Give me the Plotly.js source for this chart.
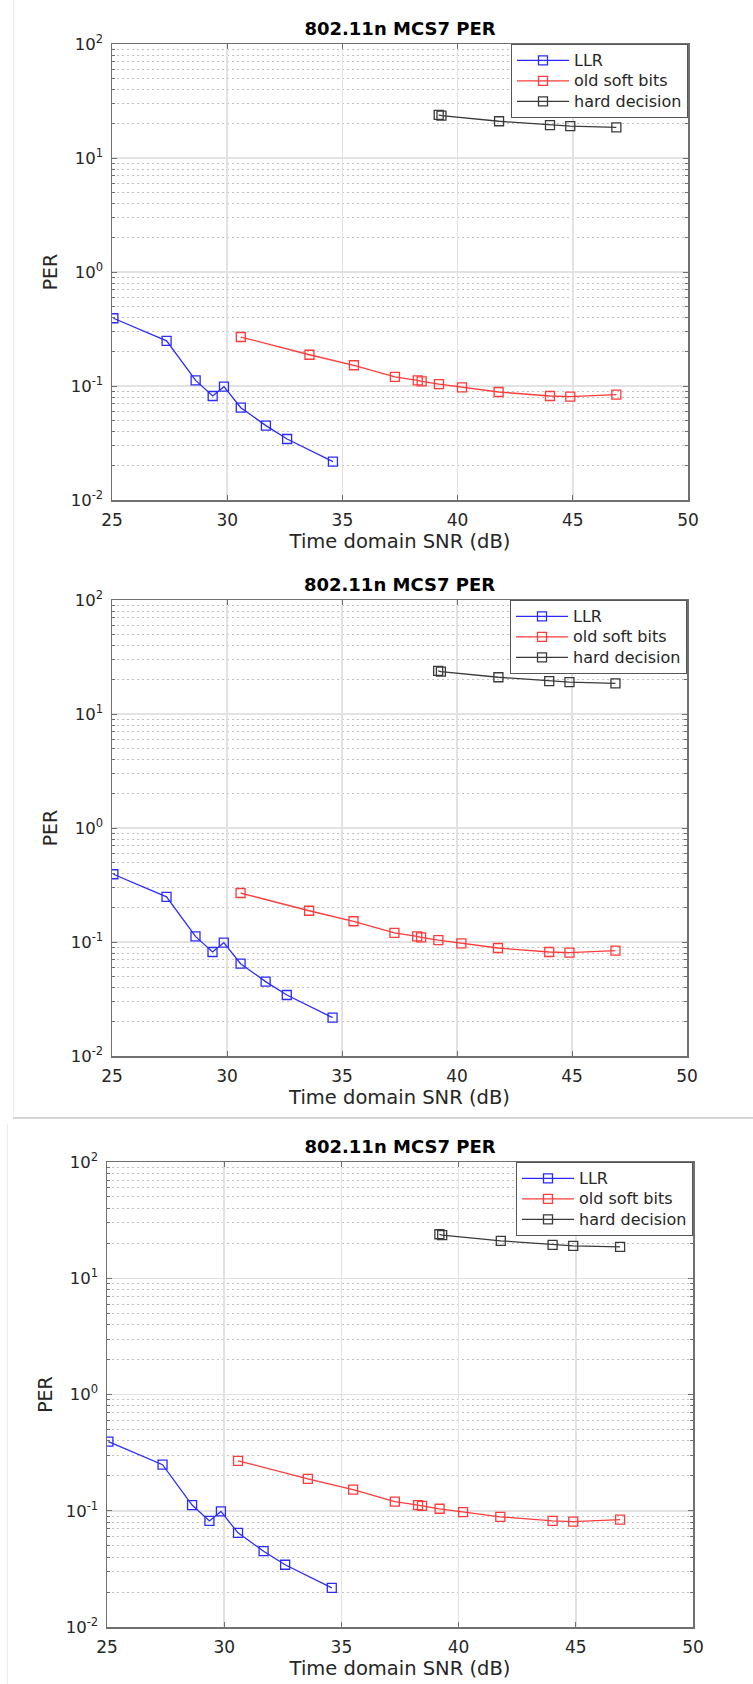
<!DOCTYPE html>
<html>
<head>
<meta charset="utf-8">
<script src="https://cdn.plot.ly/plotly-3.0.1.min.js"></script>
<style>
  html, body { margin: 0; padding: 0; background: #ffffff; }
  body { width: 753px; height: 1684px; position: relative; overflow: hidden; }
  .panel { position: absolute; left: 0; width: 753px; }
  .sep { position: absolute; }
</style>
</head>
<body>
<div class="sep" style="left:13px; top:0px; width:1px; height:1118px; background:#ececec;"></div>
<div class="sep" style="left:13px; top:1117px; width:740px; height:2px; background:#d4d4d4;"></div>
<div class="sep" style="left:7px; top:1124px; width:1px; height:560px; background:#ececec;"></div>
<div id="c1" class="panel" style="top:0px; height:560px;"></div>
<div id="c2" class="panel" style="top:556px; height:560px;"></div>
<div id="c3" class="panel" style="top:1119px; height:565px;"></div>
<script>
// ---- data ----
const chartTitle = '802.11n MCS7 PER';
const xTitle = 'Time domain SNR (dB)';
const yTitle = 'PER';
const seriesNames = ['LLR', 'old soft bits', 'hard decision'];

const snrLLR  = [25.06, 27.37, 28.63, 29.37, 29.86, 30.59, 31.68, 32.60, 34.59];
const perLLR  = [0.393, 0.249, 0.112, 0.0817, 0.0986, 0.0645, 0.0449, 0.0343, 0.0217];

const snrSoft = [30.59, 33.57, 35.50, 37.28, 38.27, 38.44, 39.19, 40.19, 41.78, 44.01, 44.89, 46.89];
const perSoft = [0.269, 0.188, 0.152, 0.120, 0.112, 0.110, 0.104, 0.0974, 0.0886, 0.0817, 0.0806, 0.0839];

const snrHard = [39.18, 39.30, 41.80, 44.01, 44.89, 46.89];
const perHard = [23.9, 23.5, 21.0, 19.4, 19.0, 18.6];

const xTickVals = [25, 30, 35, 40, 45, 50];
const yTickVals = [0.01, 0.1, 1, 10, 100];
const yTickText = ['10<sup>-2</sup>', '10<sup>-1</sup>', '10<sup>0</sup>', '10<sup>1</sup>', '10<sup>2</sup>'];
const minorDigits = [2, 3, 4, 5, 6, 7, 8, 9];

const colors = ['#2b2bff', '#ff3b3b', '#3a3a3a'];

// ---- build ----
const yMinorVals = [];
for (let e = -2; e < 2; e++) {
  for (const d of minorDigits) yMinorVals.push(d * Math.pow(10, e));
}

function traces() {
  const xs = [snrLLR, snrSoft, snrHard];
  const ys = [perLLR, perSoft, perHard];
  return xs.map((x, i) => ({
    type: 'scatter',
    mode: 'lines+markers',
    name: '<span style="font-size:16px">' + seriesNames[i] + '</span>',
    x: x,
    y: ys[i],
    line: { color: colors[i], width: 1.3 },
    marker: { symbol: 'square-open', size: 9, color: colors[i], line: { width: 1.3, color: colors[i] } }
  }));
}

const FONT = 'DejaVu Sans, sans-serif';
const axisColor = '#707070';
const textColor = '#262626';

function layoutFor(m, h, titleY) {
  return {
    width: 753,
    height: h,
    margin: m,
    paper_bgcolor: 'rgba(0,0,0,0)',
    plot_bgcolor: '#ffffff',
    showlegend: true,
    font: { family: FONT, size: 16, color: textColor },
    title: {
      text: chartTitle,
      font: { family: FONT, size: 18, color: '#000000', weight: 'bold' },
      x: 0.5, xref: 'paper', xanchor: 'center',
      y: 1 - titleY / h, yref: 'container', yanchor: 'middle'
    },
    xaxis: {
      range: [25, 50],
      tickmode: 'array',
      tickvals: xTickVals,
      ticktext: xTickVals.map(String),
      ticks: 'inside', ticklen: 5, tickwidth: 1, tickcolor: axisColor,
      showline: true, linecolor: axisColor, linewidth: 1.5, mirror: 'ticks',
      showgrid: true, gridcolor: '#e2e2e2', gridwidth: 1.5,
      zeroline: false,
      tickfont: { family: FONT, size: 17, color: textColor },
      ticklabelstandoff: 4,
      title: { text: xTitle, font: { family: FONT, size: 19.5, color: textColor }, standoff: 4 }
    },
    yaxis: {
      type: 'log',
      range: [-2, 2],
      tickmode: 'array',
      tickvals: yTickVals,
      ticktext: yTickText,
      ticks: 'inside', ticklen: 5, tickwidth: 1, tickcolor: axisColor,
      showline: true, linecolor: axisColor, linewidth: 1.5, mirror: 'ticks',
      showgrid: true, gridcolor: '#e2e2e2', gridwidth: 1.5,
      zeroline: false,
      tickfont: { family: FONT, size: 16.5, color: textColor },
      ticklabelstandoff: 4,
      minor: {
        tickmode: 'array',
        tickvals: yMinorVals,
        ticks: 'inside', ticklen: 3, tickcolor: axisColor,
        showgrid: true, gridcolor: '#c2c2c2', griddash: '1.5px,3.5px', gridwidth: 1
      },
      title: { text: yTitle, font: { family: FONT, size: 19, color: textColor }, standoff: 8 }
    },
    legend: {
      x: 1, y: 1, xanchor: 'right', yanchor: 'top',
      xref: 'paper', yref: 'paper',
      bgcolor: '#ffffff', bordercolor: '#555555', borderwidth: 1,
      font: { family: FONT, size: 13.5, color: textColor },
      itemwidth: 52,
      tracegroupgap: 0
    }
  };
}

const cfg = { displayModeBar: false, staticPlot: true };

Plotly.newPlot('c1', traces(), layoutFor({ l: 112, r: 65, t: 44, b: 60 }, 560, 29), cfg);
Plotly.newPlot('c2', traces(), layoutFor({ l: 112, r: 66, t: 44, b: 60 }, 560, 29), cfg);
Plotly.newPlot('c3', traces(), layoutFor({ l: 107, r: 60, t: 43, b: 57 }, 565, 28), cfg);
</script>
</body>
</html>
